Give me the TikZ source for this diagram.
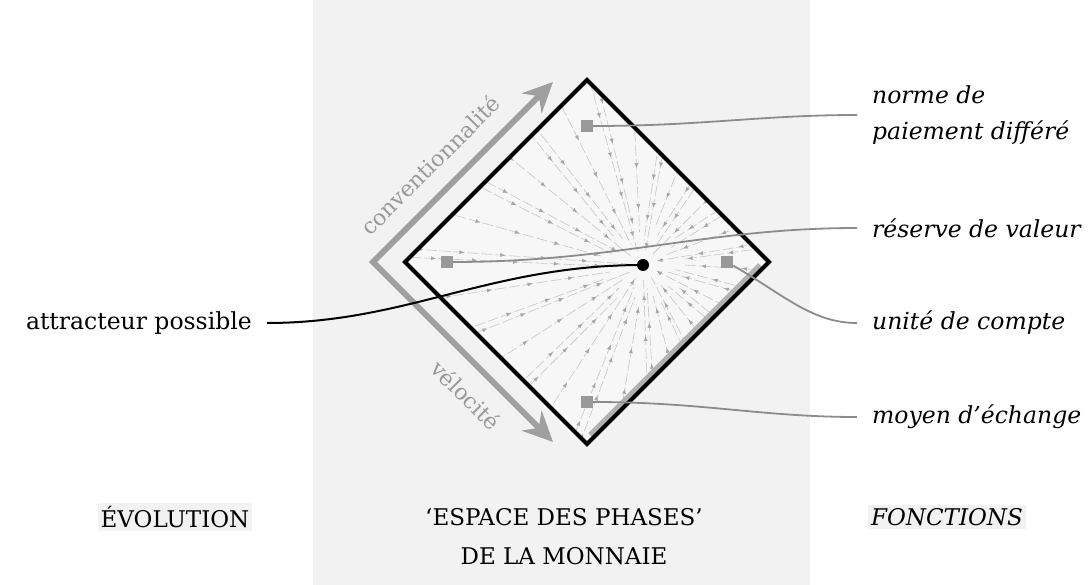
\documentclass[tikz,border=0pt]{standalone}
\usepackage{fontspec}
\setmainfont{DejaVu Serif}
\usetikzlibrary{arrows.meta}
\usetikzlibrary{decorations.markings}
\usetikzlibrary{calc}

\begin{document}
\begin{tikzpicture}[x=1pt,y=-1pt,
  lbl/.style={font=\fontsize{23.5}{28}\selectfont, inner sep=2pt},
  fct/.style={font=\fontsize{23.5}{36}\selectfont\itshape, inner sep=2pt, anchor=west, align=left},
  capbox/.style={font=\fontsize{23}{39}\selectfont, fill=gray!10, inner sep=3pt, align=center},
  marker/.style={fill=black!40, minimum size=12pt, inner sep=0pt},
  link/.style={draw=black!45, line width=1.8pt, shorten >=13pt},
  ray/.style={gray!45, line width=0.6pt, dash pattern=on 11pt off 3pt,
    postaction={decorate},
    decoration={markings, mark=between positions 0 and 1 step 41pt with {\arrow[gray!70]{Latex[length=5pt,width=4pt]}}}},
  axis/.style={draw=gray!75, line width=6pt, line join=miter,
    {Stealth[length=30pt,width=28pt,inset=10pt]}-{Stealth[length=30pt,width=28pt,inset=10pt]}},
]
\useasboundingbox (0,0) rectangle (1090,585);
\fill[gray!10] (313,0) rectangle (810,585);

% phase space
\coordinate (N) at (587,80);
\coordinate (E) at (769,262);
\coordinate (S) at (587,444);
\coordinate (W) at (405,262);
\coordinate (A) at (643,265);
\fill[gray!6] (N) -- (E) -- (S) -- (W) -- cycle;
\begin{scope}
\clip (N) -- (E) -- (S) -- (W) -- cycle;
\foreach \a [count=\i] in {0,8,...,352}
  \draw[ray] ($(A)+({\a+3*mod(\i,3)}:{250+13*mod(\i,5)})$) -- ($(A)+(\a:{15+9*mod(7*\i,4)})$);
\end{scope}
\draw[gray!60, line width=5pt] (760,265) -- (590,435);
\draw[line width=4pt, line join=miter] (N) -- (E) -- (S) -- (W) -- cycle;

% evolution
\draw[axis] (553,82) -- (373,262) -- (553,442);
\node[lbl, text=gray!80, rotate=45, font=\fontsize{22}{26}\selectfont] (conv) at (430,165) {conventionnalité};
\node[lbl, text=gray!80, rotate=-45, font=\fontsize{22}{26}\selectfont] (velo) at (466,395) {vélocité};

% functions
\node[marker] (pay) at (587,126) {};
\node[marker] (res) at (447,262) {};
\node[marker] (uni) at (727,262) {};
\node[marker] (ech) at (587,402) {};
\node[fct] (lpay) at (870,115) {norme de\\paiement différé};
\node[fct] (lres) at (870,228) {réserve de valeur};
\node[fct] (luni) at (870,323) {unité de compte};
\node[fct] (lech) at (870,417) {moyen d’échange};
\draw[link] (pay) to[out=0,in=180] (lpay.west);
\draw[link] (res) to[out=0,in=180] (lres.west);
\draw[link] (uni) to[out=-30,in=180] (luni.west);
\draw[link] (ech) to[out=0,in=180] (lech.west);

% attractor
\node[circle, fill, inner sep=0pt, minimum size=12pt] (att) at (A) {};
\node[lbl, anchor=east] (lattr) at (254,323) {attracteur possible};
\draw[line width=2pt, shorten >=13pt] (att.center) to[out=180,in=0] (lattr.east);

% headings
\node[capbox] (evo) at (175,517) {ÉVOLUTION};
\node[capbox] (esp) at (564,537) {‘ESPACE DES PHASES’\\DE LA MONNAIE};
\node[capbox, font=\fontsize{23}{39}\selectfont\itshape] (fon) at (947,517) {FONCTIONS};
\end{tikzpicture}
\end{document}
